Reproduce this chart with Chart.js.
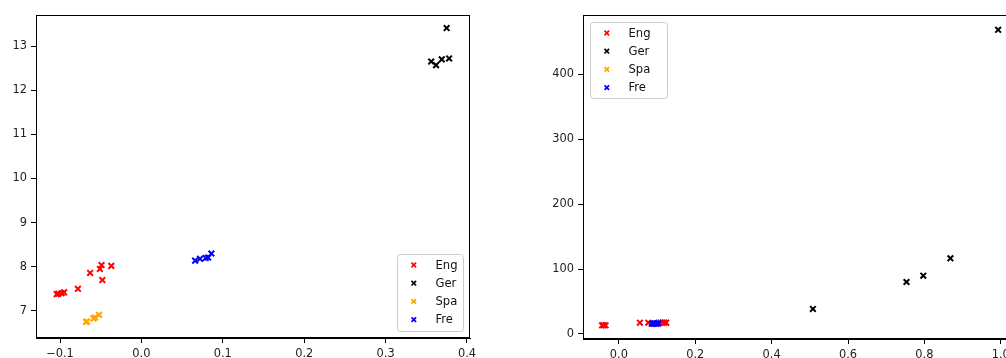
<!DOCTYPE html>
<html>
<head>
<meta charset="utf-8">
<script src="https://cdn.jsdelivr.net/npm/chart.js@4"></script>
<style>
  html, body { margin: 0; padding: 0; background: #fff; overflow: hidden; }
  #wrap { position: relative; width: 1006px; height: 358px; overflow: hidden; }
  canvas { position: absolute; top: 0; }
  #left { left: 0; }
  #right { left: 530px; }
</style>
</head>
<body>
<div id="wrap">
  <canvas id="left" width="480" height="358"></canvas>
  <canvas id="right" width="500" height="358"></canvas>
</div>
<script>
const seriesNames = ['Eng', 'Ger', 'Spa', 'Fre'];
const seriesColors = ['#ff0000', '#000000', '#ffa500', '#0000ff'];

// left panel
const leftEngX = [-0.104, -0.102, -0.098, -0.095, -0.078, -0.063, -0.049, -0.051, -0.048, -0.037];
const leftEngY = [7.38, 7.39, 7.40, 7.42, 7.50, 7.86, 8.04, 7.95, 7.70, 8.02];
const leftGerX = [0.375, 0.356, 0.362, 0.369, 0.378];
const leftGerY = [13.41, 12.65, 12.57, 12.70, 12.72];
const leftSpaX = [-0.068, -0.067, -0.059, -0.057, -0.052];
const leftSpaY = [6.75, 6.76, 6.83, 6.85, 6.91];
const leftFreX = [0.066, 0.072, 0.079, 0.082, 0.086];
const leftFreY = [8.14, 8.18, 8.20, 8.21, 8.30];
const leftXTicks = [-0.1, 0.0, 0.1, 0.2, 0.3, 0.4];
const leftYTicks = [7, 8, 9, 10, 11, 12, 13];

// right panel
const rightEngX = [-0.044, -0.040, -0.035, 0.055, 0.077, 0.104, 0.109, 0.114, 0.119, 0.124];
const rightEngY = [13.4, 13.4, 13.4, 17.4, 17.4, 17.4, 17.5, 17.4, 17.5, 17.4];
const rightGerX = [0.508, 0.753, 0.797, 0.868, 0.993];
const rightGerY = [38.5, 80, 89.7, 116.5, 468];
const rightSpaX = [0.092, 0.095, 0.098, 0.100];
const rightSpaY = [16, 16, 16, 16];
const rightFreX = [0.086, 0.090, 0.094, 0.099, 0.103];
const rightFreY = [15.8, 16.0, 16.2, 16.0, 16.3];
const rightXTicks = [0.0, 0.2, 0.4, 0.6, 0.8, 1.0];
const rightYTicks = [0, 100, 200, 300, 400];

const FONT = { family: 'DejaVu Sans', size: 11.4 };
const fmtNum = (v, d) => v.toFixed(d).replace('-', '\u2212');

function pairs(xs, ys) {
    return xs.map((x, i) => ({ x: x, y: ys[i] }));
}

// matplotlib draws all four spines
const framePlugin = {
    id: 'frame',
    afterDraw(chart) {
        const a = chart.chartArea;
        const ctx = chart.ctx;
        ctx.save();
        ctx.strokeStyle = '#000';
        ctx.lineWidth = 1;
        ctx.strokeRect(Math.round(a.left) + 0.5, Math.round(a.top) + 0.5,
            Math.round(a.right - a.left) - 1, Math.round(a.bottom - a.top) - 1);
        ctx.restore();
    }
};

function drawCross(ctx, x, y, r, color, lw) {
    ctx.strokeStyle = color;
    ctx.lineWidth = lw;
    ctx.beginPath();
    ctx.moveTo(x - r, y - r); ctx.lineTo(x + r, y + r);
    ctx.moveTo(x - r, y + r); ctx.lineTo(x + r, y - r);
    ctx.stroke();
}

// legend box inside the axes, like matplotlib's
const boxLegend = {
    id: 'boxLegend',
    afterDraw(chart, args, opts) {
        const a = chart.chartArea;
        const ctx = chart.ctx;
        const w = opts.width, h = opts.height;
        let left, top;
        if (opts.corner === 'lower right') {
            left = a.right - opts.inset - w;
            top = a.bottom - opts.inset - h;
        } else {
            left = a.left + opts.inset;
            top = a.top + opts.inset;
        }
        ctx.save();
        ctx.beginPath();
        ctx.roundRect(Math.round(left) + 0.5, Math.round(top) + 0.5, w, h, 3);
        ctx.fillStyle = 'rgba(255,255,255,0.8)';
        ctx.fill();
        ctx.strokeStyle = '#cccccc';
        ctx.lineWidth = 1;
        ctx.stroke();
        ctx.font = '11.6px "DejaVu Sans"';
        ctx.textBaseline = 'middle';
        chart.data.datasets.forEach((ds, i) => {
            const y = top + 11 + i * 18.2;
            drawCross(ctx, left + 16.8, y, 2.3, ds.borderColor, 1.7);
            ctx.fillStyle = '#111';
            ctx.fillText(ds.label, left + 38.5, y + 0.5);
        });
        ctx.restore();
    }
};

function makeAxis(min, max, ticks, digits, size, isX) {
    return {
        type: 'linear',
        min: min,
        max: max,
        afterBuildTicks: s => { s.ticks = ticks.map(v => ({ value: v })); },
        afterFit: s => {
            if (isX) s.height = size; else s.width = size;
            s.paddingLeft = 0; s.paddingRight = 0;
            s.paddingTop = 0; s.paddingBottom = 0;
        },
        ticks: {
            color: '#222',
            font: FONT,
            padding: 4,
            maxRotation: 0,
            autoSkip: false,
            callback: v => fmtNum(v, digits)
        },
        grid: {
            drawOnChartArea: false,
            drawTicks: true,
            tickLength: 5,
            color: '#000',
            tickWidth: 1
        },
        border: { display: true, color: '#000', width: 1 }
    };
}

function makeChart(id, series, xAxis, yAxis, pad, legendOpts) {
    const datasets = series.map((s, i) => ({
        label: seriesNames[i],
        data: pairs(s[0], s[1]),
        borderColor: seriesColors[i],
        backgroundColor: seriesColors[i],
        pointStyle: 'crossRot',
        pointRadius: 4,
        borderWidth: 2,
        order: series.length - i
    }));
    return new Chart(document.getElementById(id), {
        type: 'scatter',
        data: { datasets: datasets },
        options: {
            responsive: false,
            animation: false,
            devicePixelRatio: 1,
            layout: { padding: pad },
            scales: { x: xAxis, y: yAxis },
            plugins: {
                legend: { display: false },
                tooltip: { enabled: false },
                boxLegend: legendOpts
            }
        },
        plugins: [framePlugin, boxLegend]
    });
}

makeChart('left',
    [[leftEngX, leftEngY], [leftGerX, leftGerY], [leftSpaX, leftSpaY], [leftFreX, leftFreY]],
    makeAxis(-0.1295, 0.4037, leftXTicks, 1, 20, true),
    makeAxis(6.386, 13.705, leftYTicks, 0, 36, false),
    { top: 15, right: 10, left: 0, bottom: 0 },
    { corner: 'lower right', inset: 7, width: 66, height: 77 });

makeChart('right',
    [[rightEngX, rightEngY], [rightGerX, rightGerY], [rightSpaX, rightSpaY], [rightFreX, rightFreY]],
    makeAxis(-0.094, 1.045, rightXTicks, 1, 19, true),
    makeAxis(-7.7, 490.8, rightYTicks, 0, 53, false),
    { top: 15, right: 12, left: 0, bottom: 0 },
    { corner: 'upper left', inset: 7, width: 77, height: 76 });
</script>
</body>
</html>
